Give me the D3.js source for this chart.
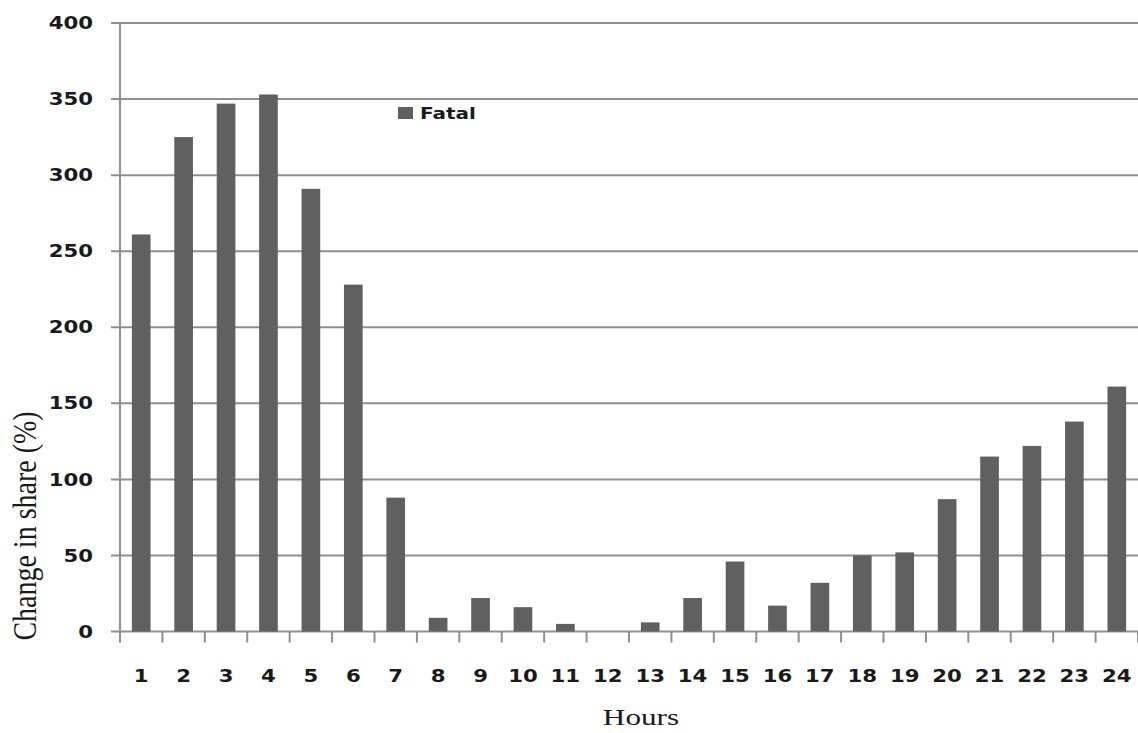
<!DOCTYPE html>
<html><head><meta charset="utf-8">
<script src="https://cdn.jsdelivr.net/npm/d3@7"></script>
<style>body{margin:0;background:#fff;} svg{display:block;}</style>
</head><body>
<svg id="chart" width="1138" height="733"></svg>
<script>
const hours = ["1","2","3","4","5","6","7","8","9","10","11","12","13","14","15","16","17","18","19","20","21","22","23","24"];
const fatal = [261,325,347,353,291,228,88,9,22,16,5,0,6,22,46,17,32,50,52,87,115,122,138,161];
const yTicks = [0,50,100,150,200,250,300,350,400];
const seriesName = "Fatal";

const svg = d3.select("#chart");
const pLeft = 120, pRight = 1138, pTop = 23, pBottom = 631.5;
const sx = 1.25;

const x = d3.scaleBand().domain(hours).range([pLeft, pRight]).paddingInner(0.56).paddingOuter(0.28);
const y = d3.scaleLinear().domain([0, 400]).range([pBottom, pTop]);

// gridlines
svg.append("g").selectAll("line").data(yTicks).join("line")
  .attr("x1", 111).attr("x2", pRight)
  .attr("y1", d => y(d)).attr("y2", d => y(d))
  .attr("stroke", "#8f8f8f").attr("stroke-width", 2);

// y axis line
svg.append("line").attr("x1", pLeft).attr("x2", pLeft).attr("y1", pTop).attr("y2", pBottom + 11)
  .attr("stroke", "#8f8f8f").attr("stroke-width", 2);

// x ticks at band boundaries
const step = x.step();
svg.append("g").selectAll("line").data(d3.range(hours.length + 1)).join("line")
  .attr("x1", i => pLeft + i * step).attr("x2", i => pLeft + i * step)
  .attr("y1", pBottom).attr("y2", pBottom + 11)
  .attr("stroke", "#8f8f8f").attr("stroke-width", 2);

// bars
svg.append("g").selectAll("rect").data(fatal).join("rect")
  .attr("x", (d, i) => x(hours[i]))
  .attr("width", x.bandwidth())
  .attr("y", d => y(d))
  .attr("height", d => y(0) - y(d))
  .attr("fill", "#606060");

// y tick labels
svg.append("g").selectAll("text").data(yTicks).join("text")
  .attr("transform", d => `translate(93,${y(d)}) scale(${sx},1)`)
  .attr("text-anchor", "end").attr("dy", "0.36em")
  .attr("font-family", "DejaVu Sans").attr("font-weight", "bold").attr("font-size", 17)
  .attr("fill", "#1a1a1a")
  .text(d => d);

// x tick labels
svg.append("g").selectAll("text").data(hours).join("text")
  .attr("transform", d => `translate(${x(d) + x.bandwidth() / 2},682) scale(${sx},1)`)
  .attr("text-anchor", "middle")
  .attr("font-family", "DejaVu Sans").attr("font-weight", "bold").attr("font-size", 17)
  .attr("fill", "#1a1a1a")
  .text(d => d);

// axis titles
svg.append("text")
  .attr("transform", `translate(641,725) scale(1.3,1)`)
  .attr("text-anchor", "middle")
  .attr("font-family", "Liberation Serif").attr("font-size", 24).attr("fill", "#1a1a1a")
  .text("Hours");

svg.append("text")
  .attr("transform", `translate(36,526) rotate(-90) scale(1,1.2)`)
  .attr("text-anchor", "middle")
  .attr("font-family", "Liberation Serif").attr("font-size", 28).attr("fill", "#1a1a1a")
  .text("Change in share (%)");

// legend
const lg = svg.append("g");
lg.append("rect").attr("x", 398).attr("y", 107).attr("width", 15).attr("height", 12).attr("fill", "#606060");
lg.append("text")
  .attr("transform", `translate(420,119) scale(${sx},1)`)
  .attr("font-family", "DejaVu Sans").attr("font-weight", "bold").attr("font-size", 16)
  .attr("fill", "#1a1a1a")
  .text(seriesName);
</script>
</body></html>
